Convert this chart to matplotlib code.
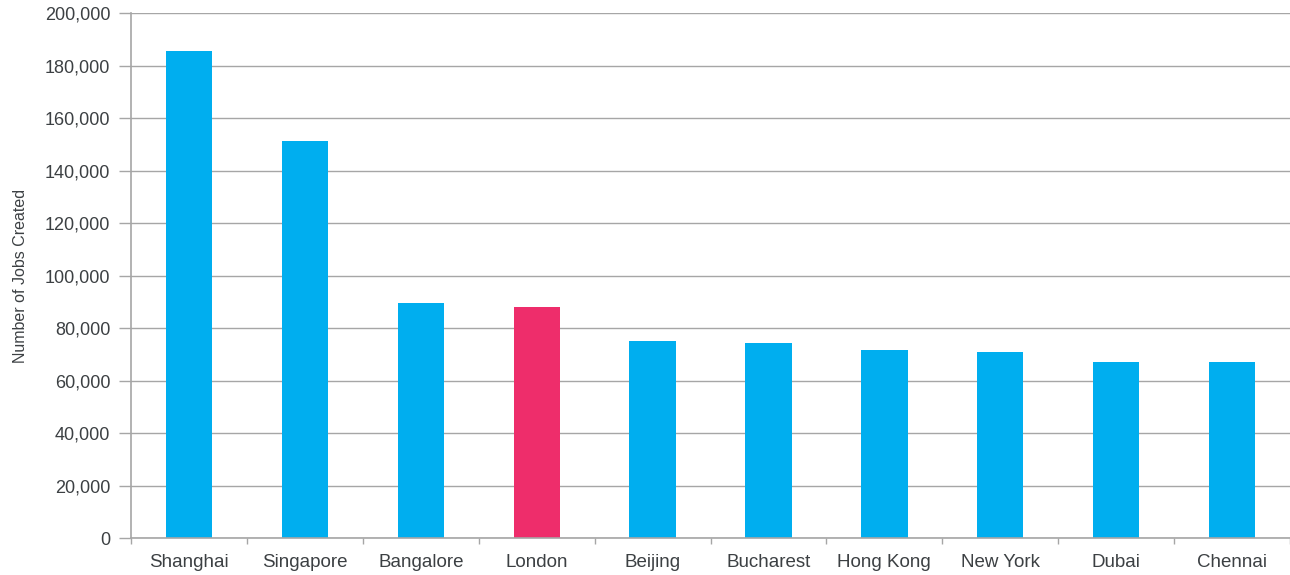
import matplotlib
matplotlib.use("Agg")
import matplotlib.pyplot as plt
from matplotlib.ticker import FuncFormatter, MultipleLocator

cities = ["Shanghai", "Singapore", "Bangalore", "London", "Beijing",
          "Bucharest", "Hong Kong", "New York", "Dubai", "Chennai"]
jobs = [185600, 151400, 89600, 88100, 75200, 74400, 71700, 71000, 67200, 67200]
highlight = "London"

BLUE = "#00aeef"
PINK = "#ee2d6b"
GRID = "#a6a6a6"
TEXT = "#3c4043"

plt.rcParams["font.family"] = ["Liberation Sans", "DejaVu Sans"]

fig = plt.figure(figsize=(12.9, 5.75), dpi=100)
ax = fig.add_axes([0.1016, 0.0638, 0.8984, 0.9131])

colors = [PINK if c == highlight else BLUE for c in cities]
x = range(len(cities))
ax.bar(x, jobs, width=0.4, color=colors, zorder=3)

ax.set_xlim(-0.5, len(cities) - 0.5)
ax.set_ylim(0, 200000)
ax.yaxis.set_major_locator(MultipleLocator(20000))
ax.yaxis.set_major_formatter(FuncFormatter(lambda v, _: f"{v:,.0f}"))
ax.grid(axis="y", color=GRID, linewidth=1.0, zorder=0)

# category labels centred, tick marks on the boundaries between bars
ax.set_xticks(list(x))
ax.set_xticklabels(cities)
ax.set_xticks([i - 0.5 for i in range(len(cities) + 1)], minor=True)
ax.tick_params(axis="x", which="major", length=0, pad=11, labelsize=13.5, labelcolor=TEXT)
ax.tick_params(axis="x", which="minor", length=4, color=GRID, width=1)
ax.tick_params(axis="y", length=9, color=GRID, width=1, pad=6, labelsize=13, labelcolor=TEXT)

for side in ("top", "right"):
    ax.spines[side].set_visible(False)
for side in ("left", "bottom"):
    ax.spines[side].set_color(GRID)
    ax.spines[side].set_linewidth(1.2)
    ax.spines[side].set_zorder(4)

ax.set_ylabel("Number of Jobs Created", fontsize=11.5, color=TEXT, labelpad=12)

fig.savefig("out.png", dpi=100)
plt.close(fig)
